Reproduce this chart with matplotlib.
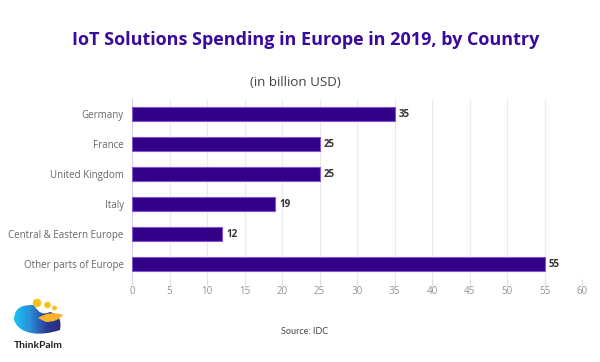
import matplotlib
matplotlib.use("Agg")
import matplotlib.pyplot as plt
import numpy as np
from matplotlib.patches import Circle, PathPatch
from matplotlib.path import Path
from matplotlib.colors import LinearSegmentedColormap

categories = ["Germany", "France", "United Kingdom", "Italy",
              "Central & Eastern Europe", "Other parts of Europe"]
values = [35, 25, 25, 19, 12, 55]
xticks = [0, 5, 10, 15, 20, 25, 30, 35, 40, 45, 50, 55, 60]

title = "IoT Solutions Spending in Europe in 2019, by Country"
subtitle = "(in billion USD)"
source = "Source: IDC"
brand = "ThinkPalm"

fig = plt.figure(figsize=(6, 3.62), dpi=100)
fig.patch.set_facecolor("white")
ax = fig.add_axes([0.22, 0.229, 0.75, 0.4972])

ypos = list(range(len(categories)))
ax.barh(ypos, values, height=0.47, color="#330088", edgecolor="#7d55d6",
        linewidth=0.8, zorder=3)
for y, v in zip(ypos, values):
    ax.text(v + 0.6, y, str(v), va="center", ha="left", fontsize=7,
            fontweight="bold", color="#333333", family="Open Sans")

ax.set_xlim(0, 60)
ax.set_ylim(len(categories) - 0.5, -0.5)
ax.set_xticks(xticks)
ax.set_xticklabels([str(t) for t in xticks], fontsize=7, color="#8f9490",
                   family="Open Sans")
ax.set_yticks(ypos)
ax.set_yticklabels(categories, fontsize=7, color="#666666", family="Open Sans")
ax.tick_params(axis="y", length=0, pad=6)
ax.tick_params(axis="x", length=4, color="#e0d8ec", width=0.8, pad=1)
ax.grid(axis="x", color="#ebebeb", linewidth=0.8, zorder=0)
for s in ["top", "right", "bottom"]:
    ax.spines[s].set_visible(False)
ax.spines["left"].set_color("#dccdf2")
ax.spines["left"].set_linewidth(0.8)

fig.text(0.51, 1 - 40 / 362, title, ha="center", va="center", fontsize=13.0,
         fontweight="bold", color="#3a0a9a", family="Open Sans")
fig.text(0.493, 1 - 83 / 362, subtitle, ha="center", va="center", fontsize=9.6,
         color="#444444", family="Open Sans")
fig.text(0.508, 1 - 331 / 362, source, ha="center", va="center", fontsize=6.5,
         color="#444444", family="Lato")
fig.text(0.064, 1 - 346 / 362, brand, ha="center", va="center", fontsize=7.4,
         fontweight="bold", color="#222222", family="Lato")

# logo approximation, in pixel-like coordinates (y downwards)
lax = fig.add_axes([0.0, 1 - 340 / 362, 80 / 600, 45 / 362])
lax.set_xlim(0, 80)
lax.set_ylim(340, 295)
lax.axis("off")
C3, C4 = Path.CURVE3, Path.CURVE4
blob = Path([(14, 320), (14, 305), (26, 305), (34, 305), (40, 317),
             (50, 312), (63, 315),
             (60, 330), (42, 336), (20, 336), (14, 320)],
            [Path.MOVETO, C4, C4, C4, C3, C3, C3,
             C4, C4, C4, Path.CLOSEPOLY])
blob_patch = PathPatch(blob, facecolor="none", edgecolor="none")
lax.add_patch(blob_patch)
cmap = LinearSegmentedColormap.from_list("lg", ["#18c6f4", "#2a8fd8", "#2b3b93", "#26287a"])
grad = np.linspace(0, 1, 100).reshape(1, -1)
im = lax.imshow(grad, extent=(13, 64, 337, 304), cmap=cmap, aspect="auto")
im.set_clip_path(blob_patch)
wave = Path([(38, 318), (50, 310), (63, 315), (58, 322), (46, 322), (38, 318)],
            [Path.MOVETO, C3, C3, C3, C3, Path.CLOSEPOLY])
lax.add_patch(PathPatch(wave, facecolor="#f8b52a", edgecolor="none"))
lax.add_patch(Circle((37, 303), 3.6, color="#f7c21b"))
lax.add_patch(Circle((47.5, 305), 2.6, color="#f7c21b"))
lax.add_patch(Circle((54.5, 308), 1.7, color="#f7c21b"))
lax.set_xlim(0, 80)
lax.set_ylim(340, 295)

fig.savefig("out.png", dpi=100, facecolor="white")
